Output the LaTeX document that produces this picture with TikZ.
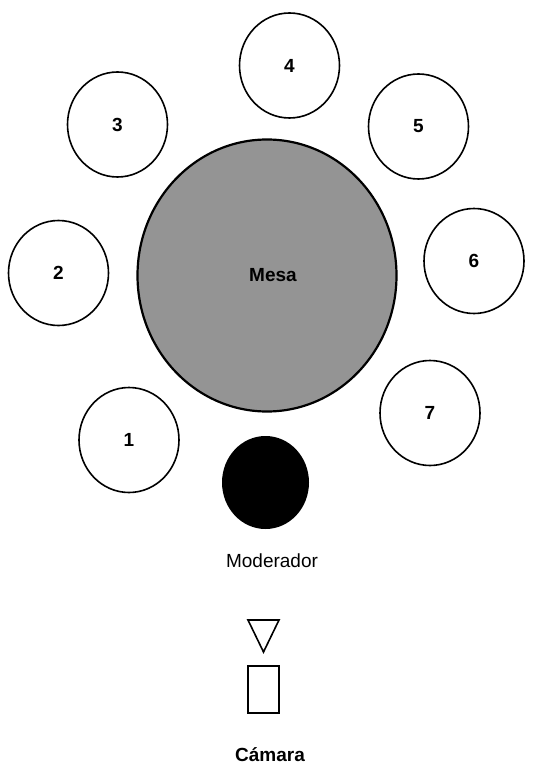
\documentclass[tikz,border=0pt]{standalone}
\usepackage{fontspec}
\setmainfont{Liberation Sans}
\usetikzlibrary{shapes.geometric}
\begin{document}
\begin{tikzpicture}[x=1pt, y=-1pt, font=\fontsize{19}{22}\selectfont,
	seat/.style={ellipse, draw, line width=1.6pt, inner sep=0pt, minimum width=100pt, minimum height=105pt, font=\fontsize{19}{22}\selectfont\bfseries}]
		\useasboundingbox (0,0) rectangle (549,767);
		% table in the middle
		\node[ellipse, draw, line width=2.2pt, fill=black!42, inner sep=0pt, minimum width=259pt, minimum height=272pt, font=\fontsize{19}{22}\selectfont\bfseries] (mesa) at (267,275.5) {\hspace*{12pt}Mesa};
		% participants round the table
		\foreach \n/\px/\py in {1/129/440, 2/58.5/273, 3/117.5/124.5, 4/289.5/65.5, 5/418.5/126.5, 6/474/261, 7/430/413}
			\node[seat] (s\n) at (\px,\py) {\n};
		% moderator
		\node[ellipse, fill=black, inner sep=0pt, minimum width=87pt, minimum height=93pt] (moderador) at (265.5,482.5) {};
		\node[anchor=base] (modlabel) at (272,567) {Moderador};
		% camera
		\coordinate (tl) at (248,620); \coordinate (tr) at (279,620); \coordinate (tb) at (263.5,652);
		\draw[line width=1.6pt, line join=miter] (tl) -- (tr) -- (tb) -- cycle;
		\node[draw, line width=1.6pt, inner sep=0pt, minimum width=31pt, minimum height=47pt] (camara) at (263.5,689.5) {};
		\node[anchor=base, font=\fontsize{19}{22}\selectfont\bfseries] (camlabel) at (270,761) {Cámara};
	\end{tikzpicture}
\end{document}
